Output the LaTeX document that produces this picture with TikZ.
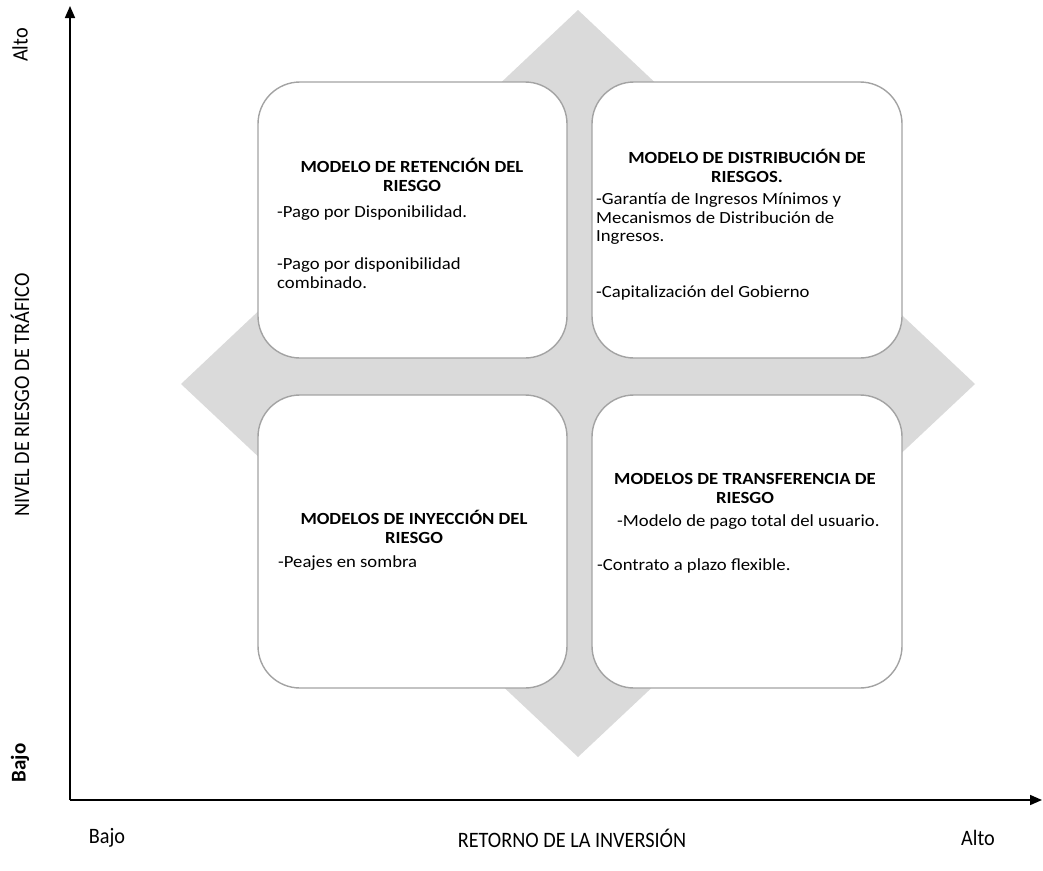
\documentclass[tikz,border=0pt]{standalone}
\usepackage{fontspec}
\setmainfont{Carlito}
\newfontfamily\condfont[FakeStretch=0.92]{Carlito}
\newfontfamily\widefont[FakeStretch=1.1]{Carlito}
\usetikzlibrary{arrows.meta}
\definecolor{boxgray}{HTML}{A3A3A3}
\definecolor{diagray}{HTML}{DADADA}
\begin{document}
\begin{tikzpicture}[x=1pt,y=-1pt,
  quad/.style={draw=boxgray, line width=1.4pt, fill=white, rounded corners=42pt, inner sep=0pt},
  ttl/.style={font=\widefont\fontsize{17}{19}\selectfont\bfseries, align=center, inner sep=0pt},
  body/.style={font=\widefont\fontsize{17}{18.5}\selectfont, anchor=west, inner sep=0pt, align=left},
  axisline/.style={line width=1.6pt, -{Triangle[length=12pt,width=10pt]}},
  lab/.style={font=\condfont\fontsize{22}{24}\selectfont, inner sep=0pt}
]
\useasboundingbox (0,0) rectangle (1043,870);
% background diamond
\fill[diagray] (578,10) -- (975,384) -- (578,757) -- (181,384) -- cycle;
% quadrant boxes
\node[quad, minimum width=309pt, minimum height=276pt] (tl) at (412.5,220) {};
\node[quad, minimum width=310pt, minimum height=276pt] (tr) at (747,220) {};
\node[quad, minimum width=309pt, minimum height=293pt] (bl) at (412.5,541.5) {};
\node[quad, minimum width=310pt, minimum height=293pt] (br) at (747,541.5) {};
% top-left text
\node[ttl] (tlt) at (412,175) {MODELO DE RETENCIÓN DEL\\RIESGO};
\node[body] (tlb1) at (277,213) {-Pago por Disponibilidad.};
\node[body] (tlb2) at (277,273) {-Pago por disponibilidad\\combinado.};
% top-right text
\node[ttl] (trt) at (747,166) {MODELO DE DISTRIBUCIÓN DE\\RIESGOS.};
\node[body] (trb1) at (596,219) {-Garantía de Ingresos Mínimos y\\Mecanismos de Distribución de\\Ingresos.};
\node[body] (trb2) at (596,293) {-Capitalización del Gobierno};
% bottom-left text
\node[ttl] (blt) at (414,527) {MODELOS DE INYECCIÓN DEL\\RIESGO};
\node[body] (blb1) at (278,563) {-Peajes en sombra};
% bottom-right text
\node[ttl] (brt) at (745,488) {MODELOS DE TRANSFERENCIA DE\\RIESGO};
\node[body] (brb1) at (617,522) {-Modelo de pago total del usuario.};
\node[body] (brb2) at (597,566) {-Contrato a plazo flexible.};
% axes
\coordinate (o) at (70,800);
\coordinate (ytop) at (70,6);
\coordinate (xend) at (1042,800);
\draw[axisline] (o) -- (ytop);
\draw[axisline] (o) -- (xend);
% axis labels
\node[lab, rotate=90] (yalto) at (20,45) {Alto};
\node[lab, rotate=90] (ylab) at (20,395) {NIVEL DE RIESGO DE TRÁFICO};
\node[font=\fontsize{21}{24}\selectfont\bfseries, inner sep=0pt, rotate=90] (ybajo) at (20,763) {Bajo};
\node[lab] (xbajo) at (107,838) {Bajo};
\node[lab] (xlab) at (572,838) {RETORNO DE LA INVERSIÓN};
\node[lab] (xalto) at (978,838) {Alto};
\end{tikzpicture}
\end{document}
